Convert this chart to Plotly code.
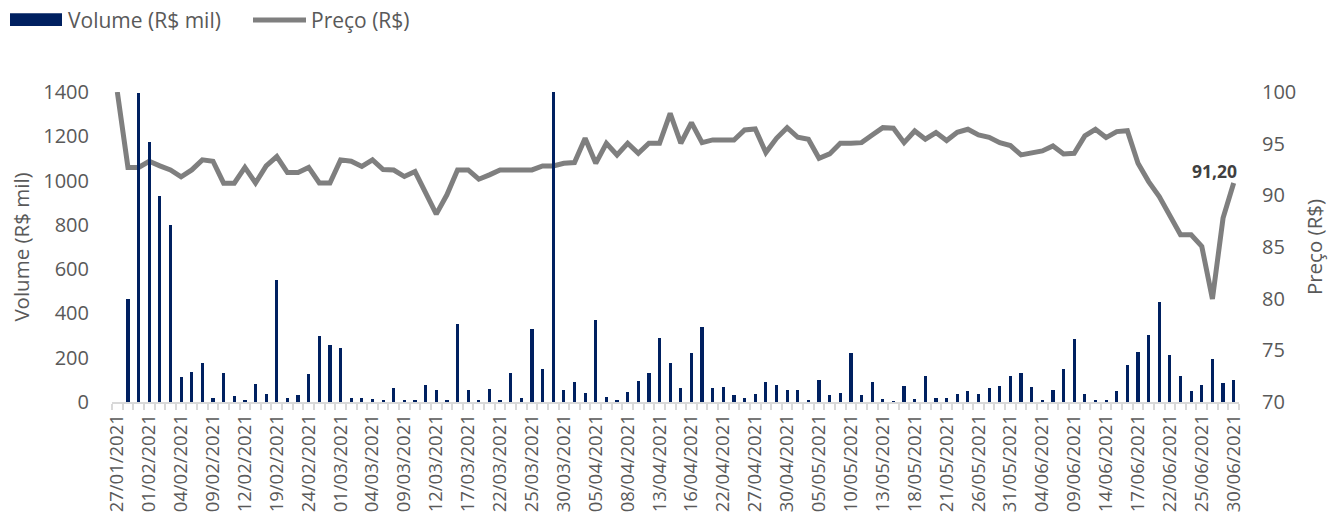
import plotly.graph_objects as go

dates = [
    "27/01/2021", "28/01/2021", "29/01/2021",
    "01/02/2021", "02/02/2021", "03/02/2021", "04/02/2021", "05/02/2021",
    "08/02/2021", "09/02/2021", "10/02/2021", "11/02/2021", "12/02/2021",
    "17/02/2021", "18/02/2021", "19/02/2021",
    "22/02/2021", "23/02/2021", "24/02/2021", "25/02/2021", "26/02/2021",
    "01/03/2021", "02/03/2021", "03/03/2021", "04/03/2021", "05/03/2021",
    "08/03/2021", "09/03/2021", "10/03/2021", "11/03/2021", "12/03/2021",
    "15/03/2021", "16/03/2021", "17/03/2021", "18/03/2021", "19/03/2021",
    "22/03/2021", "23/03/2021", "24/03/2021", "25/03/2021", "26/03/2021",
    "29/03/2021", "30/03/2021", "31/03/2021", "01/04/2021",
    "05/04/2021", "06/04/2021", "07/04/2021", "08/04/2021", "09/04/2021",
    "12/04/2021", "13/04/2021", "14/04/2021", "15/04/2021", "16/04/2021",
    "19/04/2021", "20/04/2021", "22/04/2021", "23/04/2021",
    "26/04/2021", "27/04/2021", "28/04/2021", "29/04/2021", "30/04/2021",
    "03/05/2021", "04/05/2021", "05/05/2021", "06/05/2021", "07/05/2021",
    "10/05/2021", "11/05/2021", "12/05/2021", "13/05/2021", "14/05/2021",
    "17/05/2021", "18/05/2021", "19/05/2021", "20/05/2021", "21/05/2021",
    "24/05/2021", "25/05/2021", "26/05/2021", "27/05/2021", "28/05/2021",
    "31/05/2021", "01/06/2021", "02/06/2021", "04/06/2021",
    "07/06/2021", "08/06/2021", "09/06/2021", "10/06/2021", "11/06/2021",
    "14/06/2021", "15/06/2021", "16/06/2021", "17/06/2021", "18/06/2021",
    "21/06/2021", "22/06/2021", "23/06/2021", "24/06/2021", "25/06/2021",
    "28/06/2021", "29/06/2021", "30/06/2021",
]

volume = [
    0, 465, 1394, 1173, 931, 800, 112, 134, 174, 19,
    130, 29, 7, 80, 35, 551, 20, 31, 125, 297,
    259, 243, 19, 20, 13, 10, 63, 11, 8, 77,
    56, 8, 354, 53, 8, 59, 11, 133, 19, 330,
    150, 1409, 56, 92, 41, 372, 23, 11, 44, 97,
    131, 290, 174, 64, 222, 339, 64, 67, 32, 19,
    34, 92, 79, 55, 52, 8, 98, 32, 40, 222,
    32, 91, 14, 4, 74, 14, 118, 19, 19, 38,
    49, 34, 65, 71, 119, 131, 70, 11, 55, 148,
    285, 34, 7, 7, 50, 169, 225, 301, 453, 214,
    119, 50, 77, 196, 85, 100,
]

price = [
    100.0, 92.7, 92.7, 93.3, 92.85, 92.46, 91.8, 92.46, 93.43, 93.3,
    91.18, 91.18, 92.7, 91.2, 92.85, 93.75, 92.2, 92.2, 92.7, 91.2,
    91.2, 93.43, 93.3, 92.8, 93.43, 92.5, 92.45, 91.82, 92.3, 90.2,
    88.18, 90.05, 92.46, 92.46, 91.56, 91.98, 92.46, 92.46, 92.46, 92.46,
    92.85, 92.85, 93.1, 93.17, 95.52, 93.1, 95.04, 93.91, 95.04, 94.07,
    95.04, 95.04, 97.94, 95.04, 97.04, 95.1, 95.36, 95.3, 95.36, 96.33,
    96.42, 94.14, 95.52, 96.55, 95.62, 95.43, 93.59, 94.01, 95.04, 95.04,
    95.1, 95.84, 96.55, 96.49, 95.1, 96.23, 95.43, 96.07, 95.3, 96.1,
    96.39, 95.84, 95.62, 95.1, 94.82, 93.91, 94.07, 94.3, 94.78, 94.01,
    94.07, 95.75, 96.39, 95.59, 96.17, 96.26, 93.1, 91.33, 89.89, 88.12,
    86.18, 86.18, 85.06, 79.97, 87.8, 91.2,
]

volume_ticks = [0, 200, 400, 600, 800, 1000, 1200, 1400]
price_ticks = [70, 75, 80, 85, 90, 95, 100]

NAVY = "#002060"
GRAY = "#7f7f7f"
TXT = "#595959"
FONT = "Open Sans, Liberation Sans, sans-serif"

idx = list(range(len(dates)))
label_idx = idx[::3]
label_txt = dates[::3]

# Body margin is removed by a post script, so the figure fills the page from (0, 0).
FW, FH = 1342, 520
L, R, T, B = 112, 1239, 92, 402.5  # plot box in figure px
W, H = R - L, B - T
def px(x):
    return (x - L) / W
def py(y):
    return (B - y) / H

fig = go.Figure()
fig.add_trace(go.Scatter(
    x=idx, y=price, mode="lines", name="Preço (R$)",
    line=dict(color=GRAY, width=5, shape="linear"), yaxis="y",
    showlegend=False,
))
fig.add_trace(go.Bar(
    x=idx, y=volume, name="Volume (R$ mil)", marker=dict(color=NAVY, line=dict(width=0)),
    width=0.3, yaxis="y2", showlegend=False,
))

shapes = [
    dict(type="rect", xref="paper", yref="paper", x0=px(10), x1=px(62), y0=py(26), y1=py(13),
         fillcolor=NAVY, line=dict(width=0)),
    dict(type="line", xref="paper", yref="paper", x0=px(253), x1=px(306), y0=py(20), y1=py(20),
         line=dict(color=GRAY, width=5)),
]
annotations = [
    dict(xref="paper", yref="paper", x=px(66), y=py(20), text="Volume (R$ mil)", showarrow=False,
         xanchor="left", yanchor="middle", font=dict(family=FONT, size=21, color=TXT)),
    dict(xref="paper", yref="paper", x=px(309), y=py(20), text="Preço (R$)", showarrow=False,
         xanchor="left", yanchor="middle", font=dict(family=FONT, size=21, color=TXT)),
    dict(x=idx[-1], y=price[-1], xref="x", yref="y",
         text="<b>" + f"{price[-1]:.2f}".replace(".", ",") + "</b>",
         showarrow=False, xanchor="right", yanchor="bottom", xshift=5, yshift=-2,
         font=dict(family=FONT, size=17.5, color="#404040")),
]

fig.update_layout(
    width=FW, height=FH,
    margin=dict(l=L, r=FW - R, t=T, b=FH - B, autoexpand=False),
    paper_bgcolor="white", plot_bgcolor="white",
    font=dict(family=FONT, size=20, color=TXT),
    bargap=0,
    shapes=shapes, annotations=annotations,
    xaxis=dict(
        range=[-0.5, len(dates) - 0.5], automargin=False,
        tickmode="array", tickvals=label_idx, ticktext=label_txt,
        tickangle=-90, ticks="", ticklabelstandoff=3,
        tickfont=dict(family=FONT, size=18.5, color=TXT),
        showline=True, linecolor="#d9d9d9", linewidth=1.5,
        showgrid=False, zeroline=False,
        minor=dict(tick0=-0.5, dtick=1, ticks="outside", ticklen=6, tickcolor="#d9d9d9",
                   tickwidth=1.5, showgrid=False),
    ),
    yaxis=dict(
        side="right", range=[70, 100], tickmode="array", tickvals=price_ticks, automargin=False,
        showgrid=False, zeroline=False, showline=False, ticks="",
        ticklabelstandoff=22,
        title=dict(text="Preço (R$)", standoff=12, font=dict(family=FONT, size=20.5, color=TXT)),
        tickfont=dict(family=FONT, size=20, color=TXT),
    ),
    yaxis2=dict(
        side="left", overlaying="y", range=[0, 1400], tickmode="array", tickvals=volume_ticks,
        automargin=False,
        showgrid=False, zeroline=False, showline=False, ticks="",
        ticklabelstandoff=22,
        title=dict(text="Volume (R$ mil)", standoff=8, font=dict(family=FONT, size=20.5, color=TXT)),
        tickfont=dict(family=FONT, size=20, color=TXT),
    ),
)

fig.write_html(
    "out.html",
    config={"displayModeBar": False},
    post_script="document.body.style.margin='0px';document.body.style.overflow='hidden';",
)
